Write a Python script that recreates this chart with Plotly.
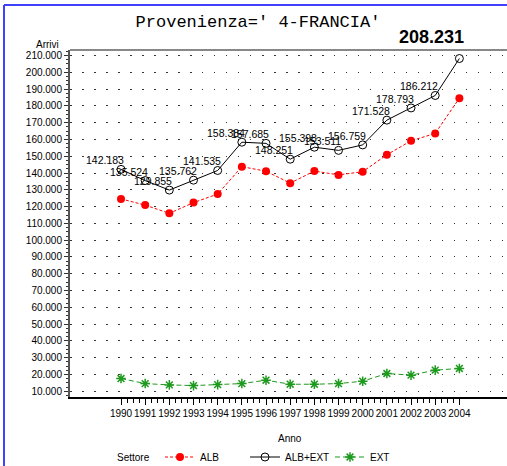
import plotly.graph_objects as go

# ---------------- data ----------------
years = list(range(1990, 2005))
alb_ext = [142183, 135524, 129855, 135762, 141535, 158384, 157685, 148251,
           155398, 153511, 156759, 171528, 178793, 186212, 208231]
alb = [124600, 120900, 116000, 122400, 127500, 143800, 141100, 134000,
       141200, 138900, 140800, 150900, 159200, 163600, 184600]
ext = [17600, 14600, 13800, 13400, 14000, 14600, 16600, 14200,
       14200, 14600, 16000, 20600, 19600, 22600, 23600]
y_ticks = list(range(10000, 210001, 10000))
y_ticktext = [f"{v:,}".replace(",", ".") for v in y_ticks]
x_ticktext = [str(y) for y in years]

def fmt(v):
    return f"{v:,}".replace(",", ".")

# ---------------- layout geometry ----------------
W, H = 507, 466
L, R, T, B = 70, 0, 50, 69
PW, PH = W - L - R, H - T - B

def px_x(px):
    return (px - L) / PW

def px_y(py):
    return (H - B - py) / PH

SANS = "Liberation Sans, Arial, sans-serif"
MONO = "Liberation Mono, DejaVu Sans Mono, monospace"

fig = go.Figure()

fig.add_trace(go.Scatter(
    x=years, y=alb, name="ALB", mode="lines+markers",
    line=dict(color="#ff0000", width=1, dash="3px,2px"),
    marker=dict(symbol="circle", size=8, color="#ff0000"),
))
fig.add_trace(go.Scatter(
    x=years, y=alb_ext, name="ALB+EXT", mode="lines+markers",
    line=dict(color="#000000", width=1),
    marker=dict(symbol="circle-open", size=8, color="#000000", line=dict(width=1)),
))
fig.add_trace(go.Scatter(
    x=years, y=ext, name="EXT", mode="lines+markers",
    line=dict(color="#1e9a1e", width=1, dash="5px,3px"),
    marker=dict(symbol="asterisk-open", size=8, color="#1e9a1e", line=dict(width=1.5, color="#1e9a1e")),
))

annotations = []
for i, (yr, v) in enumerate(zip(years, alb_ext)):
    if i < len(years) - 1:
        annotations.append(dict(
            x=yr, y=v, text=fmt(v), showarrow=False, xshift=-16, yshift=9,
            xanchor="center", yanchor="middle",
            font=dict(family=SANS, size=10.5, color="black"),
        ))
    else:
        annotations.append(dict(
            x=yr, y=v, text="<b>" + fmt(v) + "</b>", showarrow=False, xshift=-28, yshift=22,
            xanchor="center", yanchor="middle",
            font=dict(family=SANS, size=18, color="black"),
        ))

annotations.append(dict(
    xref="paper", yref="paper", x=px_x(47), y=px_y(45), text="Arrivi",
    xanchor="center", yanchor="middle",
    showarrow=False, font=dict(family=SANS, size=10, color="black"),
))
annotations.append(dict(
    xref="paper", yref="paper", x=px_x(290), y=px_y(438), text="Anno",
    xanchor="center", yanchor="middle",
    showarrow=False, font=dict(family=SANS, size=10, color="black"),
))
annotations.append(dict(
    xref="paper", yref="paper", x=px_x(133), y=px_y(457), text="Settore",
    xanchor="center", yanchor="middle",
    showarrow=False, font=dict(family=SANS, size=10, color="black"),
))

minor_x = [y + q / 4 for y in years[:-1] for q in (1, 2, 3)]

fig.update_layout(
    width=W, height=H,
    margin=dict(l=L, r=R, t=T, b=B, autoexpand=False),
    paper_bgcolor="white", plot_bgcolor="white",
    title=dict(
        text="Provenienza=' 4-FRANCIA'", x=258 / W, xanchor="center",
        y=1 - 21 / H, yanchor="middle",
        font=dict(family=MONO, size=17, color="black"),
    ),
    xaxis=dict(
        range=[1987.89, 2005.97], tickmode="array", tickvals=years, ticktext=x_ticktext,
        tickangle=0, automargin=False,
        ticks="outside", ticklen=6, tickcolor="black", tickwidth=1,
        showline=True, linecolor="black", linewidth=1.5,
        showgrid=False, zeroline=False,
        tickfont=dict(family=SANS, size=10, color="black"),
        minor=dict(tickmode="array", tickvals=minor_x, ticks="outside", ticklen=4,
                   tickcolor="black", showgrid=False),
    ),
    yaxis=dict(
        range=[6600, 213300], tickmode="array", tickvals=y_ticks, ticktext=y_ticktext,
        automargin=False,
        ticks="outside", ticklen=4, tickcolor="#333", tickwidth=1,
        showline=True, linecolor="#555", linewidth=2,
        showgrid=True, gridcolor="#333", gridwidth=1, griddash="1.5px,10.5px",
        zeroline=False,
        tickfont=dict(family=SANS, size=10, color="black"),
        minor=dict(dtick=2500, ticks="outside", ticklen=2, tickcolor="#333", showgrid=False),
    ),
    showlegend=True,
    legend=dict(
        orientation="h", x=px_x(160), xanchor="left", y=px_y(457), yanchor="middle",
        font=dict(family=SANS, size=10, color="black"),
        itemwidth=30, entrywidth=40, bgcolor="rgba(0,0,0,0)",
    ),
    annotations=annotations,
    shapes=[
        dict(type="line", xref="paper", yref="paper", x0=0, x1=1, y0=1, y1=1,
             line=dict(color="#888", width=2)),
        dict(type="line", xref="paper", yref="paper", x0=px_x(4), x1=px_x(4),
             y0=px_y(H), y1=px_y(5), line=dict(color="#4040ff", width=2)),
        dict(type="line", xref="paper", yref="paper", x0=px_x(4), x1=px_x(W),
             y0=px_y(5), y1=px_y(5), line=dict(color="#4040ff", width=2)),
    ],
)

fig.write_html("out.html", config={"displayModeBar": False},
               post_script="document.body.style.margin='0px';")
